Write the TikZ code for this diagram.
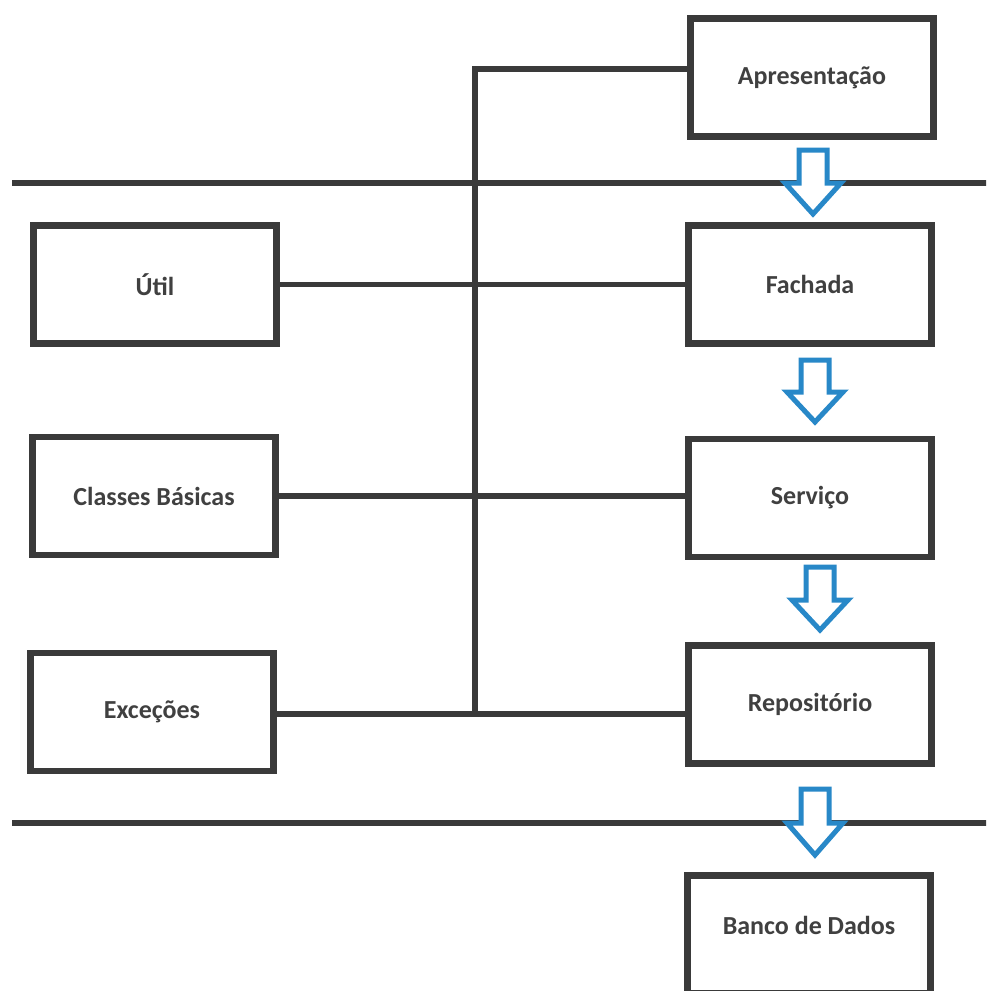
\documentclass[tikz,border=0pt]{standalone}
\usepackage{fontspec}
\setmainfont{Carlito}
\definecolor{boxgray}{RGB}{58,58,58}
\definecolor{textgray}{RGB}{64,64,64}
\definecolor{flowblue}{RGB}{40,136,200}
\tikzset{
  layerbox/.style={draw=boxgray, line width=6.5pt, fill=white,
    minimum width=243pt, minimum height=118pt, inner sep=0pt,
    text=textgray, font=\bfseries\fontsize{26}{30}\selectfont},
  wire/.style={draw=boxgray, line width=5.5pt},
  divider/.style={draw=boxgray, line width=6.5pt},
  flow/.style={draw=flowblue, line width=5pt, fill=white, line join=miter},
  pics/downarrow/.style args={#1/#2}{code={
    \path[flow] (-14,0) -- (14,0) -- (14,#1) -- (28,#1) -- (0,#2)
      -- (-28,#1) -- (-14,#1) -- cycle;
  }}
}
\begin{document}
\begin{tikzpicture}[x=1pt,y=-1pt]
  \clip (0,0) rectangle (986,991);
  \fill[white] (0,0) rectangle (986,991);

  % layer dividers
  \coordinate (d1a) at (12,183);  \coordinate (d1b) at (990,183);
  \coordinate (d2a) at (12,823);  \coordinate (d2b) at (990,823);
  \draw[divider] (d1a) -- (d1b);
  \draw[divider] (d2a) -- (d2b);

  % main layers
  \node[layerbox] (apres) at (812,77.5)  {Apresentação};
  \node[layerbox] (fach)  at (810,284.5) {Fachada};
  \node[layerbox] (serv)  at (810,498)   {Serviço};
  \node[layerbox] (repo)  at (810,704.5) {Repositório};
  \node[layerbox] (banco) at (809,934.5) {};
  \node[text=textgray, font=\bfseries\fontsize{26}{30}\selectfont] (bancolbl) at (809,925) {Banco de Dados};

  % cross-cutting modules
  \node[layerbox] (util) at (155,284.5) {Útil};
  \node[layerbox] (cls)  at (154,496)   {Classes Básicas};
  \node[layerbox] (exc)  at (152,712)   {Exceções};

  % shared bus
  \coordinate (bustop) at (475,69);
  \coordinate (busbot) at (475,714);
  \draw[wire] (util.east) -- (util.east -| fach.west);
  \draw[wire] (cls.east) -- (cls.east -| serv.west);
  \draw[wire] (exc.east |- busbot) -- (busbot -| repo.west);
  \draw[wire] (busbot) -- (bustop) -- (bustop -| apres.west);

  % flow between layers
  \pic at (813,150) {downarrow={33/64}};
  \pic at (815,360) {downarrow={32/62}};
  \pic at (820,567) {downarrow={33/63}};
  \pic at (815,789) {downarrow={34/66}};
\end{tikzpicture}
\end{document}
